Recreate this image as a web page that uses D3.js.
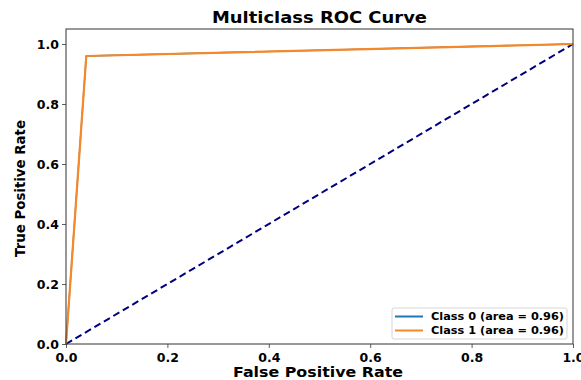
<!DOCTYPE html>
<html>
<head>
<meta charset="utf-8">
<script src="https://cdn.jsdelivr.net/npm/d3@7"></script>
<style>
  body { margin: 0; background: #fff; }
  text { font-family: "DejaVu Sans", sans-serif; }
</style>
</head>
<body>
<div id="chart"></div>
<script>
// ROC points per class (binary problem, both classes overlap)
const classNames = ["Class 0", "Class 1"];
const classAuc = [0.96, 0.96];
const classFpr = [[0.0, 0.04, 1.0], [0.0, 0.04, 1.0]];
const classTpr = [[0.0, 0.96, 1.0], [0.0, 0.96, 1.0]];
const classColors = ["#1f77b4", "#f5882a"];
const tickValues = [0.0, 0.2, 0.4, 0.6, 0.8, 1.0];

const MARGIN = { LEFT: 66, RIGHT: 8, TOP: 29, BOTTOM: 36 };
const WIDTH = 581 - MARGIN.LEFT - MARGIN.RIGHT;
const HEIGHT = 380 - MARGIN.TOP - MARGIN.BOTTOM;

const svg = d3.select("#chart")
  .append("svg")
  .attr("width", 581)
  .attr("height", 380);

const g = svg.append("g")
  .attr("transform", `translate(${MARGIN.LEFT}, ${MARGIN.TOP})`);

const x = d3.scaleLinear().domain([0, 1]).range([0, WIDTH]);
const y = d3.scaleLinear().domain([0, 1.05]).range([HEIGHT, 0]);

// axes
const xAxis = g.append("g")
  .attr("transform", `translate(0, ${HEIGHT})`)
  .call(d3.axisBottom(x).tickValues(tickValues).tickFormat(d3.format(".1f")).tickSize(4));
const yAxis = g.append("g")
  .call(d3.axisLeft(y).tickValues(tickValues).tickFormat(d3.format(".1f")).tickSize(4));

[xAxis, yAxis].forEach((a) => {
  a.select(".domain").remove();
  a.selectAll("line").attr("stroke", "#333").attr("stroke-width", 0.8);
  a.selectAll("text")
    .attr("fill", "#000")
    .attr("font-size", "12.5px")
    .attr("font-weight", "bold")
    .attr("font-family", "DejaVu Sans, sans-serif");
});
xAxis.selectAll("text").attr("dy", "0.9em");

// chance diagonal
const line = d3.line().x((d) => x(d[0])).y((d) => y(d[1]));

g.append("path")
  .datum([[0, 0], [1, 1]])
  .attr("d", line)
  .attr("fill", "none")
  .attr("stroke", "#000080")
  .attr("stroke-width", 2)
  .attr("stroke-dasharray", "7,4");

// class curves (class 0 sits under class 1)
classNames.forEach((name, i) => {
  const pts = classFpr[i].map((f, j) => [f, classTpr[i][j]]);
  g.append("path")
    .datum(pts)
    .attr("d", line)
    .attr("fill", "none")
    .attr("stroke", classColors[i])
    .attr("stroke-width", i === 0 ? 1.4 : 2.2)
    .attr("stroke-linejoin", "round");
});

// frame
g.append("rect")
  .attr("width", WIDTH)
  .attr("height", HEIGHT)
  .attr("fill", "none")
  .attr("stroke", "#333")
  .attr("stroke-width", 1);

// title + labels
svg.append("text")
  .attr("x", 319.5)
  .attr("y", 23)
  .attr("text-anchor", "middle")
  .attr("font-size", "15px")
  .attr("font-weight", "bold")
  .attr("textLength", 215)
  .attr("lengthAdjust", "spacingAndGlyphs")
  .text("Multiclass ROC Curve");

svg.append("text")
  .attr("x", 318)
  .attr("y", 377)
  .attr("text-anchor", "middle")
  .attr("font-size", "14px")
  .attr("font-weight", "bold")
  .attr("textLength", 170)
  .attr("lengthAdjust", "spacingAndGlyphs")
  .text("False Positive Rate");

svg.append("text")
  .attr("transform", `translate(25, 188.5) rotate(-90)`)
  .attr("text-anchor", "middle")
  .attr("font-size", "13.5px")
  .attr("font-weight", "bold")
  .attr("textLength", 137)
  .attr("lengthAdjust", "spacingAndGlyphs")
  .text("True Positive Rate");

// legend
const legendG = g.append("g")
  .attr("transform", `translate(${WIDTH - 181}, ${HEIGHT - 36})`);

legendG.append("rect")
  .attr("width", 175)
  .attr("height", 31)
  .attr("rx", 2)
  .attr("fill", "#fff")
  .attr("fill-opacity", 0.8)
  .attr("stroke", "#ccc")
  .attr("stroke-width", 0.8);

classNames.forEach((name, i) => {
  const row = legendG.append("g")
    .attr("transform", `translate(3, ${8.5 + i * 14})`);
  row.append("line")
    .attr("x1", 0)
    .attr("x2", 28)
    .attr("stroke", classColors[i])
    .attr("stroke-width", 2);
  row.append("text")
    .attr("x", 36)
    .attr("y", 3.5)
    .attr("font-size", "10px")
    .attr("font-weight", "bold")
    .attr("textLength", 133)
    .attr("lengthAdjust", "spacingAndGlyphs")
    .text(`${name} (area = ${classAuc[i].toFixed(2)})`);
});
</script>
</body>
</html>
